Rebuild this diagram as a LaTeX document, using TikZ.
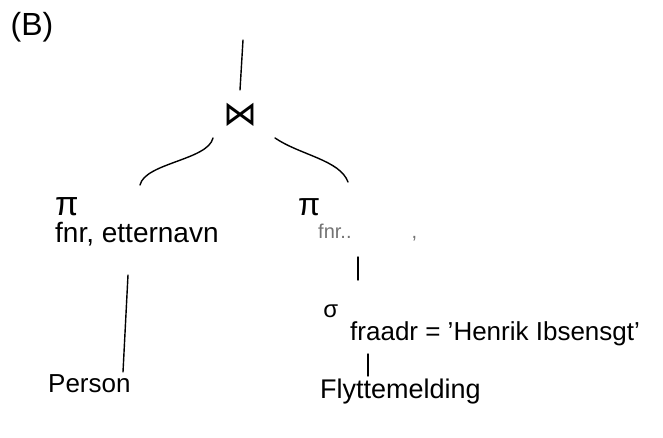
\documentclass[tikz,border=0pt]{standalone}
\usepackage{fontspec}
\setmainfont{Liberation Sans}
\newfontfamily\symfont{DejaVu Sans}
\begin{document}
\begin{tikzpicture}[x=1pt,y=-1pt,
  lbl/.style={inner sep=0pt,font=\fontsize{26}{30}\selectfont},
  edge/.style={line width=1.4pt,line cap=round},
  faint/.style={inner sep=0pt,text=black!55,font=\fontsize{20}{24}\selectfont}]
\useasboundingbox (0,0) rectangle (663,438);
% heading
\node[lbl,font=\fontsize{32}{36}\selectfont] (head) at (32,27) {(B)};
% join
\coordinate (top) at (243,40);
\node[lbl,font=\symfont\fontsize{34}{38}\selectfont] (join) at (240,115) {⋈};
% left projection
\node[lbl,font=\fontsize{28}{32}\selectfont,anchor=base west] (pl) at (55,243)
  {\rlap{\raisebox{28pt}{\fontsize{34}{36}\selectfont π}}fnr, etternavn};
% right projection
\node[faint,anchor=base west] (pr) at (318,238)
  {\rlap{\hspace{-20pt}\raisebox{22pt}{\textcolor{black}{\fontsize{32}{36}\selectfont π}}}fnr..\hspace{60pt},};
% selection
\node[lbl,anchor=base west] (sel) at (350,340)
  {\llap{\raisebox{23pt}{\fontsize{24}{28}\selectfont σ}\hspace{12pt}}fraadr = 'Henrik Ibsensgt'};
% relations
\node[lbl,anchor=base west] (person) at (48,392) {Person};
\node[lbl,font=\fontsize{27}{30}\selectfont,anchor=base west] (fly) at (320,398) {Flyttemelding};
% connectors
\draw[edge] (top) -- ([shift={(0,-25)}]join.center);
\draw[edge] ([shift={(-27,23)}]join.center)
  .. controls ([shift={(-32,45)}]join.center) and ([shift={(-95,48)}]join.center)
  .. ([shift={(85,-58)}]pl.base west);
\draw[edge] ([shift={(35,23)}]join.center)
  .. controls ([shift={(60,40)}]join.center) and ([shift={(100,45)}]join.center)
  .. ([shift={(30,-56)}]pr.base west);
\draw[edge] ([shift={(73,32)}]pl.base west) -- ([shift={(75,-20)}]person.base west);
\draw[edge] ([shift={(40,19)}]pr.base west) -- ([shift={(8,-60)}]sel.base west);
\draw[edge] ([shift={(18,14)}]sel.base west) -- ([shift={(48,-22)}]fly.base west);
\end{tikzpicture}
\end{document}
